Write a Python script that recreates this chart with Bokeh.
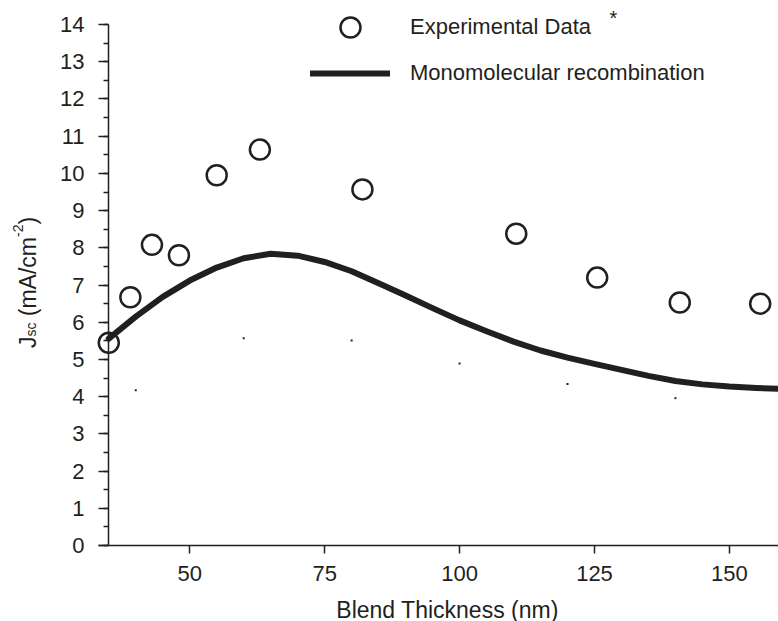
import math
from bokeh.plotting import figure
from bokeh.models import (Range1d, SingleIntervalTicker, FixedTicker, Legend,
                          LegendItem, Label)
from bokeh.embed import file_html
from bokeh.resources import INLINE

# ---- data ----
exp_x = [35, 39, 43, 48, 55, 63, 82, 110.5, 125.5, 140.8, 155.7]
exp_y = [5.45, 6.67, 8.08, 7.80, 9.95, 10.64, 9.57, 8.38, 7.20, 6.53, 6.50]

model_x = [35, 40, 45, 50, 55, 60, 65, 70, 75, 80, 85, 90, 95, 100, 105,
           110, 115, 120, 125, 130, 135, 140, 145, 150, 155, 159.1]
model_y = [5.56, 6.15, 6.68, 7.12, 7.47, 7.72, 7.84, 7.79, 7.62, 7.37, 7.05,
           6.72, 6.38, 6.05, 5.76, 5.48, 5.24, 5.05, 4.88, 4.72, 4.56, 4.42,
           4.33, 4.27, 4.23, 4.21]

dot_x = [40, 60, 80, 100, 120, 140]
dot_y = [4.17, 5.57, 5.51, 4.89, 4.34, 3.96]

x_ticks = [50, 75, 100, 125, 150]
x_axis_bounds = (33.1, 159.1)
y_axis_bounds = (0, 14)
x_origin = 34.95

INK = "#231f20"
FONT = "Liberation Sans"

W, H = 778, 621
PX_X = 5.397   # px per nm
PX_Y = 37.21   # px per mA/cm2
FL, FB = 108, 76   # axis origin offset from left / bottom of canvas

p = figure(width=W, height=H, output_backend="svg", toolbar_location=None,
           x_range=Range1d(x_origin - FL / PX_X, x_origin + (W - FL) / PX_X),
           y_range=Range1d(-FB / PX_Y, (H - FB) / PX_Y),
           min_border=0)
p.xgrid.visible = False
p.ygrid.visible = False
p.outline_line_color = None

# axes (drawn at the data origin, inside the canvas)
for ax in (p.xaxis[0], p.yaxis[0]):
    ax.axis_line_color = INK
    ax.axis_line_width = 1.5
    ax.major_tick_line_color = INK
    ax.major_tick_line_width = 1.5
    ax.minor_tick_line_color = INK
    ax.minor_tick_line_width = 1.5
    ax.major_tick_in = 0
    ax.minor_tick_in = 0
    ax.major_label_text_font = FONT
    ax.major_label_text_font_size = "22px"
    ax.major_label_text_color = INK

p.yaxis.ticker = SingleIntervalTicker(interval=1, num_minor_ticks=2)
p.yaxis.major_tick_out = 10
p.yaxis.minor_tick_out = 5
p.yaxis.major_label_standoff = 14
p.yaxis.fixed_location = x_origin
p.yaxis.bounds = y_axis_bounds

p.xaxis.ticker = FixedTicker(ticks=x_ticks, minor_ticks=[])
p.xaxis.major_tick_out = 8
p.xaxis.major_label_standoff = 12
p.xaxis.fixed_location = 0
p.xaxis.bounds = x_axis_bounds

# data
line_r = p.line(model_x, model_y, line_color=INK, line_width=6,
                line_cap="round", line_join="round")
p.scatter(dot_x, dot_y, marker="square", size=2, fill_color=INK, line_color=None)
circ_r = p.scatter(exp_x, exp_y, marker="circle", size=20, fill_color=None,
                   line_color=INK, line_width=2.5)

# legends
leg1 = Legend(items=[LegendItem(label="Experimental Data", renderers=[circ_r])],
              location=(307, 568.7), glyph_width=86, glyph_height=50,
              label_standoff=17, padding=0, margin=0, spacing=0,
              background_fill_alpha=0, border_line_alpha=0,
              label_text_font=FONT, label_text_font_size="22px",
              label_text_color=INK)
leg2 = Legend(items=[LegendItem(label="Monomolecular recombination", renderers=[line_r])],
              location=(310, 533.3), glyph_width=80, glyph_height=30,
              label_standoff=20, padding=0, margin=0, spacing=0,
              background_fill_alpha=0, border_line_alpha=0,
              label_text_font=FONT, label_text_font_size="22px",
              label_text_color=INK)
p.add_layout(leg1)
p.add_layout(leg2)

def lab(text, x, y, size, angle=0.0, align="left"):
    p.add_layout(Label(text=text, x=x, y=y, x_units="screen", y_units="screen",
                       angle=angle, text_font=FONT, text_font_size=size,
                       text_color=INK, text_align=align,
                       text_baseline="alphabetic"))

lab("*", 609, 604, "20px")

# x axis title
lab("Blend Thickness (nm)", 447, 12, "23px", align="center")

# y axis title: J_sc (mA/cm^-2), rotated
A = math.pi / 2
lab("J", 27, 273.4, "23px", A)
lab("sc", 30.5, 284.9, "14px", A)
lab("(mA/cm", 27, 305.3, "23px", A)
lab("-2", 17, 384.5, "14px", A)
lab(")", 27, 396.9, "23px", A)

open("out.html", "w").write(file_html(p, INLINE))
